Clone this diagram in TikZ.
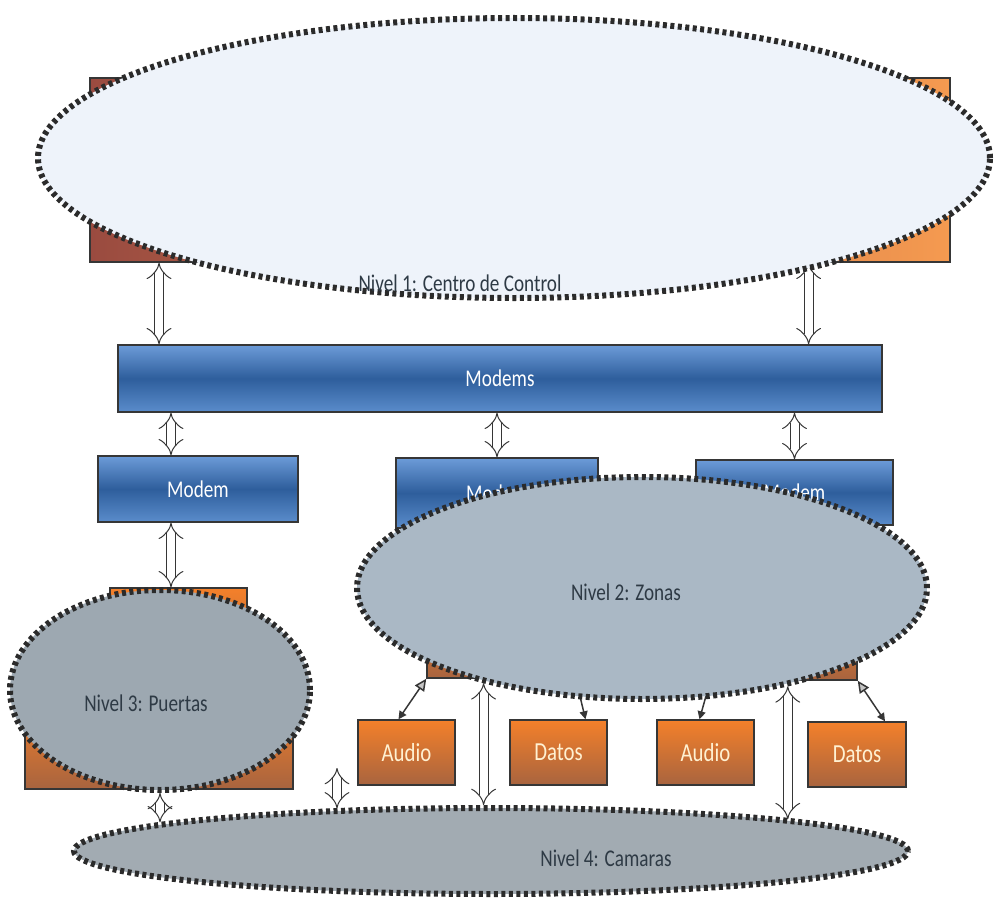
\documentclass[tikz,border=0pt]{standalone}
\usepackage{fontspec}
\newfontfamily\lblfont[FakeStretch=0.8]{Carlito}
\usepackage{xcolor}
\usetikzlibrary{arrows.meta,shapes.geometric,calc}

\definecolor{edge}{HTML}{363636}
\definecolor{dotink}{HTML}{2B2B2B}
\definecolor{skyfill}{HTML}{EEF3FA}
\definecolor{zonefill}{HTML}{AAB8C5}
\definecolor{gatefill}{HTML}{9DA8B1}
\definecolor{camfill}{HTML}{A2ABB2}
\definecolor{lvltext}{HTML}{2E3A45}
\definecolor{blueA}{HTML}{6C9BD8}
\definecolor{blueB}{HTML}{2E5E9C}
\definecolor{blueC}{HTML}{5A8CCB}
\definecolor{orA}{HTML}{F4802A}
\definecolor{orB}{HTML}{A8643F}
\definecolor{orT}{HTML}{FFF1D2}
\definecolor{ctrlA}{HTML}{9A4B40}
\definecolor{ctrlB}{HTML}{F59A50}

\begin{document}
\begin{tikzpicture}[x=1pt,y=-1pt,
  zone/.style={ellipse,draw=dotink,line width=6pt,dash pattern=on 4pt off 3.5pt,inner sep=0pt},
  bbox/.style={rectangle,draw=edge,line width=1.5pt,inner sep=0pt,top color=blueA,bottom color=blueC,middle color=blueB,text=white,font=\lblfont\fontsize{24}{24}\selectfont},
  obox/.style={rectangle,draw=edge,line width=1.5pt,inner sep=0pt,top color=orA,bottom color=orB,text=orT,font=\lblfont\fontsize{26}{26}\selectfont},
  lvl/.style={text=lvltext,font=\lblfont\fontsize{24}{24}\selectfont},
  blk/.style={draw=edge,line width=1pt,double=white,double distance=8pt,{Implies}-{Implies}},
  lnk/.style={draw=edge,line width=1.5pt,{Triangle[open,fill=gray!45,length=12pt,width=11pt]}-{Triangle[length=8pt,width=8pt]}}]
  \useasboundingbox (0,0) rectangle (994,899);
  % nivel 1
  \node[rectangle,draw=edge,line width=1.5pt,left color=ctrlA,right color=ctrlB,minimum width=860pt,minimum height=184pt] (ctrl) at (520,170) {};
  \coordinate (aTL) at ($(ctrl.south west)!0.081!(ctrl.south east)$);
  \coordinate (aTR) at ($(ctrl.south west)!0.835!(ctrl.south east)$);
  \node[bbox,minimum width=764pt,minimum height=67pt] (modems) at (500,378.5) {Modems};
  \draw[blk] (aTL) -- (aTL |- modems.north);
  \draw[blk] (aTR) -- (aTR |- modems.north);
  \node[zone,fill=skyfill,minimum width=952pt,minimum height=280pt] (nivel1) at (514,158) {};
  \node[lvl] (t1) at (460,283) {Nivel 1: Centro de Control};
  % modems
  \node[bbox,minimum width=200pt,minimum height=66pt] (mdmL) at (198,489) {Modem};
  \node[bbox,minimum width=202pt,minimum height=70pt] (mdmM) at (497,493) {Modem};
  \node[bbox,minimum width=197pt,minimum height=65pt] (mdmR) at (794.5,492.5) {Modem};
  \coordinate (aL) at ($(mdmL.north)+(-27,0)$);
  \draw[blk] (aL |- modems.south) -- (aL);
  \draw[blk] (modems.south -| mdmM.north) -- (mdmM.north);
  \draw[blk] (modems.south -| mdmR.north) -- (mdmR.north);
  % puertas
  \node[obox,minimum width=137pt,minimum height=92pt] (prtA) at (178.5,634) {};
  \node[obox,minimum width=268pt,minimum height=89pt] (prtB) at (159,744.5) {};
  \draw[blk] (mdmL.south -| aL) -- (aL |- prtA.north);
  % zonas
  \node[obox,minimum width=148pt,minimum height=78pt] (zA) at (501,639) {};
  \node[obox,minimum width=146pt,minimum height=75pt] (zB) at (784,642.5) {};
  \node[obox,minimum width=97pt,minimum height=65pt] (audio1) at (406.5,752.5) {Audio};
  \node[obox,minimum width=97pt,minimum height=65pt] (datos1) at (558.5,752.5) {Datos};
  \node[obox,minimum width=97pt,minimum height=65pt] (audio2) at (705.5,752.5) {Audio};
  \node[obox,minimum width=98pt,minimum height=65pt] (datos2) at (857,754.5) {Datos};
  \draw[lnk] (zA.south west) -- ($(audio1.north)+(-8,0)$);
  \draw[lnk] (zA.south east) -- ($(datos1.north)+(27,0)$);
  \draw[lnk] (zB.south west) -- ($(audio2.north)+(-6,0)$);
  \draw[lnk] (zB.south east) -- ($(datos2.north)+(28,0)$);
  \node[zone,fill=zonefill,minimum width=570pt,minimum height=222pt] (nivel2) at (642,588) {};
  \node[lvl] (t2) at (626,592) {Nivel 2: Zonas};
  \node[zone,fill=gatefill,minimum width=300pt,minimum height=200pt] (nivel3) at (160,690) {};
  \node[lvl] (t3) at (146,703) {Nivel 3: Puertas};
  % camaras
  \node[zone,fill=camfill,minimum width=834pt,minimum height=86pt] (nivel4) at (491,851) {};
  \node[lvl] (t4) at (606,858) {Nivel 4: Camaras};
  \coordinate (cam) at (337,768);
  \draw[blk] (nivel3.south) -- (nivel3.south |- nivel4.175);
  \draw[blk] (cam) -- (cam |- nivel4.165);
  \draw[blk] (nivel2.211) -- (nivel2.211 |- nivel4.north);
  \draw[blk] (nivel2.326) -- (nivel2.326 |- nivel4.6);
\end{tikzpicture}
\end{document}
